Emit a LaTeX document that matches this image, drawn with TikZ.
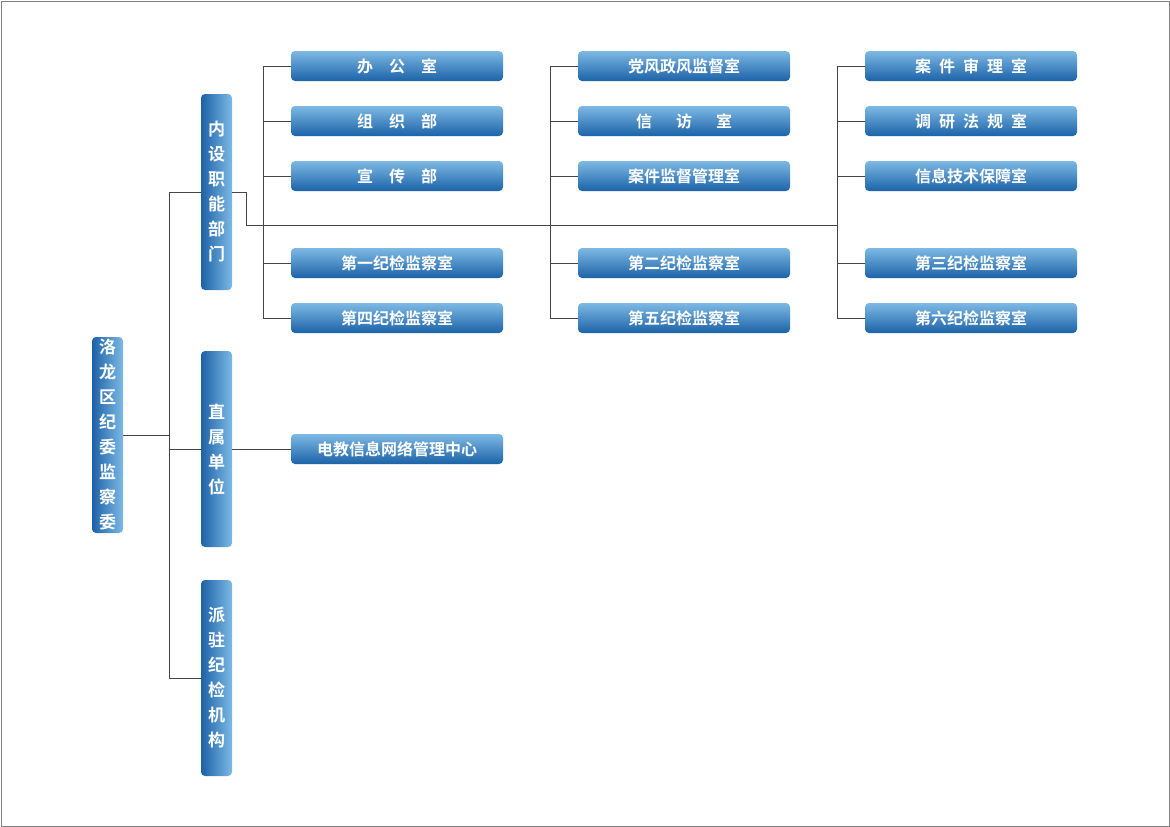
\documentclass[tikz,border=0pt]{standalone}
\usepackage{fontspec}
\newfontfamily\cjk{Noto Sans CJK SC Bold}
\definecolor{bdark}{RGB}{28,98,168}
\definecolor{blight}{RGB}{125,185,228}
\definecolor{ln}{RGB}{70,70,70}
\begin{document}
\begin{tikzpicture}[x=1pt,y=-1pt,
 hbox/.style={rounded corners=4pt,top color=blight,bottom color=bdark,minimum width=212pt,minimum height=30pt,inner sep=0pt,text=white,font=\cjk\fontsize{16}{16}\selectfont},
 vbox/.style={rounded corners=4pt,left color=bdark,right color=blight,minimum width=31pt,minimum height=196pt,inner sep=0pt,text=white,font=\cjk\fontsize{17}{25}\selectfont,align=center},
 conn/.style={draw=ln,line width=0.8pt}]
\useasboundingbox (0,0) rectangle (1170,827);
\draw[gray,line width=1pt] (1,1) rectangle (1169,826);
\node[vbox] (root) at (107.5,435) {洛\\龙\\区\\纪\\委\\监\\察\\委};
\node[vbox] (a) at (216.5,192) {内\\设\\职\\能\\部\\门};
\node[vbox] (b) at (216.5,449) {直\\属\\单\\位};
\node[vbox] (c) at (216.5,678) {派\\驻\\纪\\检\\机\\构};
\foreach \n/\x in {1/397,2/684,3/971}{
 \foreach \r/\y in {1/66,2/121,3/176,4/263,5/318}{
  \coordinate (p\n\r) at (\x,\y);}}
\node[hbox] (b11) at (p11) {办\hspace{1em}公\hspace{1em}室};
\node[hbox] (b12) at (p12) {组\hspace{1em}织\hspace{1em}部};
\node[hbox] (b13) at (p13) {宣\hspace{1em}传\hspace{1em}部};
\node[hbox] (b14) at (p14) {第一纪检监察室};
\node[hbox] (b15) at (p15) {第四纪检监察室};
\node[hbox] (b21) at (p21) {党风政风监督室};
\node[hbox] (b22) at (p22) {信\hspace{1.5em}访\hspace{1.5em}室};
\node[hbox] (b23) at (p23) {案件监督管理室};
\node[hbox] (b24) at (p24) {第二纪检监察室};
\node[hbox] (b25) at (p25) {第五纪检监察室};
\node[hbox] (b31) at (p31) {案\hspace{0.5em}件\hspace{0.5em}审\hspace{0.5em}理\hspace{0.5em}室};
\node[hbox] (b32) at (p32) {调\hspace{0.5em}研\hspace{0.5em}法\hspace{0.5em}规\hspace{0.5em}室};
\node[hbox] (b33) at (p33) {信息技术保障室};
\node[hbox] (b34) at (p34) {第三纪检监察室};
\node[hbox] (b35) at (p35) {第六纪检监察室};
\node[hbox] (e) at (397,449) {电教信息网络管理中心};
% root connectors
\coordinate (rj) at (169,435);
\draw[conn] (root.east |- rj) -- (rj);
\draw[conn] (169,192) -- (169,678);
\draw[conn] (169,192) -- (a.west |- 0,192);
\draw[conn] (169,449) -- (b.west);
\draw[conn] (169,678) -- (c.west);
\draw[conn] (b.east) -- (e.west);
% inner connectors
\draw[conn] (a.east |- 0,192) -- (246,192) -- (246,225) -- (837,225);
\foreach \n/\vx in {1/263,2/550,3/837}{
 \draw[conn] (\vx,66) -- (\vx,318);
 \foreach \r in {1,...,5}{\draw[conn] (\vx,0 |- b\n\r.west) -- (b\n\r.west);}}
\end{tikzpicture}
\end{document}
